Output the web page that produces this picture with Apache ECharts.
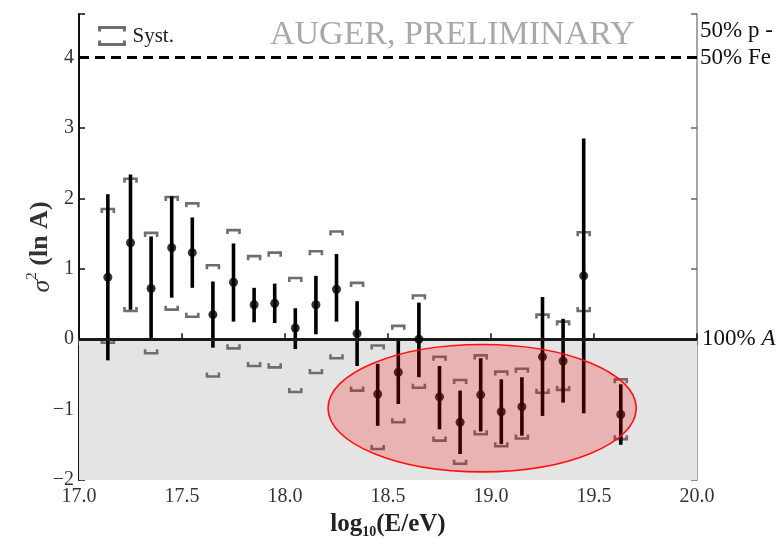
<!DOCTYPE html>
<html>
<head>
<meta charset="utf-8">
<title>Variance of ln A vs energy</title>
<script src="https://cdn.jsdelivr.net/npm/echarts@6/dist/echarts.min.js"></script>
<style>
  html, body { margin: 0; padding: 0; background: #fff; }
  #chart { width: 780px; height: 538px; }
</style>
</head>
<body>
<div id="chart"></div>
<script>
// Energy bins, log10(E/eV)
const logE = [17.14, 17.25, 17.35, 17.45, 17.55, 17.65, 17.75, 17.85, 17.95, 18.05,
              18.15, 18.25, 18.35, 18.45, 18.55, 18.65, 18.75, 18.85, 18.95, 19.05,
              19.15, 19.25, 19.35, 19.45, 19.63];

// sigma^2(ln A) central values
const sigma2 = [0.88, 1.37, 0.72, 1.30, 1.23, 0.35, 0.81, 0.49, 0.51, 0.16,
                0.49, 0.71, 0.08, -0.78, -0.47, 0.00, -0.82, -1.18, -0.79, -1.03,
                -0.96, -0.25, -0.31, 0.90, -1.07];

// statistical error band (lower / upper ends)
const statLo = [-0.30, 0.42, -0.01, 0.59, 0.73, -0.12, 0.25, 0.24, 0.23, -0.14,
                0.07, 0.25, -0.38, -1.23, -0.92, -0.54, -1.28, -1.63, -1.31, -1.49,
                -1.37, -1.09, -0.90, -1.05, -1.50];
const statHi = [2.06, 2.34, 1.46, 2.03, 1.73, 0.82, 1.36, 0.73, 0.79, 0.44,
                0.90, 1.21, 0.54, -0.35, -0.01, 0.52, -0.38, -0.73, -0.27, -0.57,
                -0.54, 0.60, 0.29, 2.85, -0.64];

// systematic uncertainty brackets (lower / upper)
const systLo = [-0.05, 0.40, -0.20, 0.42, 0.32, -0.53, -0.13, -0.38, -0.40, -0.75,
                -0.48, -0.27, -0.73, -1.56, -1.18, -0.69, -1.44, -1.77, -1.35, -1.52,
                -1.41, -0.76, -0.72, 0.40, -1.42];
const systHi = [1.85, 2.28, 1.51, 2.02, 1.93, 1.05, 1.55, 1.18, 1.23, 0.87,
                1.25, 1.53, 0.80, -0.09, 0.19, 0.62, -0.25, -0.58, -0.23, -0.46,
                -0.42, 0.35, 0.25, 1.52, -0.57];

// reference levels
const mixLevel = 4;       // 50% p - 50% Fe
const pureLevel = 0;      // 100% A

// highlighted region: centre (logE, sigma2) and half-axes
const ellipseCenter = [18.957, -0.98];
const ellipseRadii = [0.748, 0.905];

// axis ticks
const xTicks = [17.0, 17.5, 18.0, 18.5, 19.0, 19.5, 20.0];
const yTicks = [-2, -1, 0, 1, 2, 3, 4];

const SERIF = '"Liberation Serif", "DejaVu Serif", serif';

const chart = echarts.init(document.getElementById('chart'), null, { renderer: 'canvas' });

const statData = logE.map((x, i) => [x, statLo[i], statHi[i]]);
const systData = logE.map((x, i) => [x, systLo[i], systHi[i]]);
const pointData = logE.map((x, i) => [x, sigma2[i]]);

function bracket(cx, cy, halfW, leg) {
  // leg > 0 : legs point down (upper cap); leg < 0 : legs point up (lower cap)
  return [[cx - halfW, cy + leg], [cx - halfW, cy], [cx + halfW, cy], [cx + halfW, cy + leg]];
}

const tickLabelStyle = { fontFamily: SERIF, fontSize: 20, color: '#333' };

chart.setOption({
  animation: false,
  backgroundColor: '#fff',
  title: {
    text: 'AUGER, PRELIMINARY',
    left: 265, top: 13,
    textStyle: { fontFamily: SERIF, fontSize: 34, fontWeight: 'normal', color: '#a9a9a9' }
  },
  grid: { left: 79, right: 83, top: 14, bottom: 58, containLabel: false, outerBoundsMode: 'none' },
  xAxis: [{
    type: 'value', min: 17, max: 20, interval: 0.5, position: 'bottom',
    axisLine: { lineStyle: { color: '#111', width: 2 } },
    axisTick: { show: true, inside: true, length: 6, lineStyle: { color: '#111', width: 1.5 } },
    axisLabel: Object.assign({ margin: 7, formatter: v => v.toFixed(1),
      customValues: xTicks }, tickLabelStyle),
    splitLine: { show: false },
    name: 'log{s|10}(E/eV)',
    nameLocation: 'middle', nameGap: 59, nameMoveOverlap: false,
    nameTextStyle: {
      rich: {
        s: { fontFamily: SERIF, fontSize: 14, fontWeight: 'bold', color: '#222', verticalAlign: 'bottom', lineHeight: 15 }
      },
      fontFamily: SERIF, fontSize: 25, fontWeight: 'bold', color: '#222', lineHeight: 28, verticalAlign: 'bottom'
    }
  }, {
    type: 'value', min: 17, max: 20, interval: 0.5, position: 'top',
    axisLine: { lineStyle: { color: '#888', width: 1.5 } },
    axisTick: { show: true, inside: true, length: 6, lineStyle: { color: '#666', width: 1.5 } },
    axisLabel: { show: false },
    splitLine: { show: false }
  }],
  yAxis: [{
    type: 'value', min: -2, max: 4.62, interval: 1, position: 'left',
    axisLine: { lineStyle: { color: '#111', width: 2 } },
    axisTick: { show: true, inside: true, length: 6, lineStyle: { color: '#111', width: 1.5 } },
    axisLabel: Object.assign({ margin: 5, customValues: yTicks,
      formatter: v => String(v).replace('-', '\u2212') }, tickLabelStyle),
    splitLine: { show: false },
    name: '{i|σ}{sup|2} (ln A)',
    nameLocation: 'middle', nameGap: 24, nameRotate: 90, nameMoveOverlap: false,
    nameTextStyle: {
      fontFamily: SERIF, fontSize: 26, fontWeight: 'bold', color: '#333', lineHeight: 30, verticalAlign: 'bottom',
      rich: {
        i: { fontFamily: SERIF, fontSize: 26, fontStyle: 'italic', fontWeight: 'normal', color: '#333', lineHeight: 30, verticalAlign: 'bottom' },
        sup: { fontFamily: SERIF, fontSize: 15, color: '#333', fontWeight: 'normal', lineHeight: 16, verticalAlign: 'top' }
      }
    }
  }, {
    type: 'value', min: -2, max: 4.62, interval: 1, position: 'right',
    axisLine: { lineStyle: { color: '#888', width: 1.5 } },
    axisTick: { show: true, inside: true, length: 6, lineStyle: { color: '#666', width: 1.5 } },
    axisLabel: { show: false },
    splitLine: { show: false }
  }],
  graphic: [{
    type: 'group', left: 97, top: 25,
    children: [
      { type: 'polyline', shape: { points: [[0, 5], [0, 1], [25, 1], [25, 5]] },
        style: { stroke: '#6e6e6e', lineWidth: 3, fill: null } },
      { type: 'polyline', shape: { points: [[0, 14], [0, 18], [25, 18], [25, 14]] },
        style: { stroke: '#6e6e6e', lineWidth: 3, fill: null } },
      { type: 'text', x: 33, y: 10,
        style: { text: 'Syst.', fontFamily: SERIF, fontSize: 21, fill: '#222', verticalAlign: 'middle' } }
    ]
  }],
  series: [
    {
      // shaded unphysical region and reference lines
      type: 'scatter', data: [], z: 1, silent: true,
      markArea: {
        silent: true,
        itemStyle: { color: '#e4e4e4' },
        data: [[{ yAxis: -2 }, { yAxis: pureLevel }]]
      },
      markLine: {
        silent: true, symbol: 'none',
        data: [
          { yAxis: pureLevel,
            lineStyle: { color: '#1a1a1a', width: 3, type: 'solid' },
            label: { show: true, position: 'end', distance: 5,
              formatter: '100% {i|A}',
              fontFamily: SERIF, fontSize: 23, color: '#111',
              rich: { i: { fontFamily: SERIF, fontSize: 23, fontStyle: 'italic', color: '#111' } } } },
          { yAxis: mixLevel,
            lineStyle: { color: '#000', width: 3, type: [10, 6] },
            label: { show: true, position: 'end', distance: 3,
              formatter: '50% p -\n50% Fe',
              fontFamily: SERIF, fontSize: 23, color: '#111', lineHeight: 27,
              offset: [0, -13] } }
        ]
      }
    },
    {
      // systematic brackets
      type: 'custom', z: 3, silent: true,
      data: systData,
      encode: { x: 0, y: [1, 2] },
      renderItem: function (params, api) {
        const x = api.value(0);
        const lo = api.coord([x, api.value(1)]);
        const hi = api.coord([x, api.value(2)]);
        return {
          type: 'group',
          children: [
            { type: 'polyline', shape: { points: bracket(hi[0], hi[1], 6, 4) },
              style: { stroke: '#6e6e6e', lineWidth: 2.6, fill: null } },
            { type: 'polyline', shape: { points: bracket(lo[0], lo[1], 6, -4) },
              style: { stroke: '#6e6e6e', lineWidth: 2.6, fill: null } }
          ]
        };
      }
    },
    {
      // statistical error bars
      type: 'custom', z: 4, silent: true,
      data: statData,
      encode: { x: 0, y: [1, 2] },
      renderItem: function (params, api) {
        const x = api.value(0);
        const lo = api.coord([x, api.value(1)]);
        const hi = api.coord([x, api.value(2)]);
        return {
          type: 'line',
          shape: { x1: lo[0], y1: lo[1], x2: hi[0], y2: hi[1] },
          style: { stroke: '#000', lineWidth: 3.6 }
        };
      }
    },
    {
      type: 'scatter', z: 5, silent: true,
      data: pointData,
      symbol: 'circle', symbolSize: 9,
      itemStyle: { color: '#000' }
    },
    {
      // highlighted region
      type: 'custom', z: 6, silent: true,
      data: [[ellipseCenter[0], ellipseCenter[1], ellipseRadii[0], ellipseRadii[1]]],
      encode: { x: 0, y: 1 },
      renderItem: function (params, api) {
        const c = api.coord([api.value(0), api.value(1)]);
        const s = api.size([api.value(2), api.value(3)]);
        return {
          type: 'ellipse',
          shape: { cx: c[0], cy: c[1], rx: s[0], ry: s[1] },
          style: { fill: 'rgba(255,0,0,0.21)', stroke: '#ff1010', lineWidth: 1.6 }
        };
      }
    }
  ]
});
</script>
</body>
</html>
